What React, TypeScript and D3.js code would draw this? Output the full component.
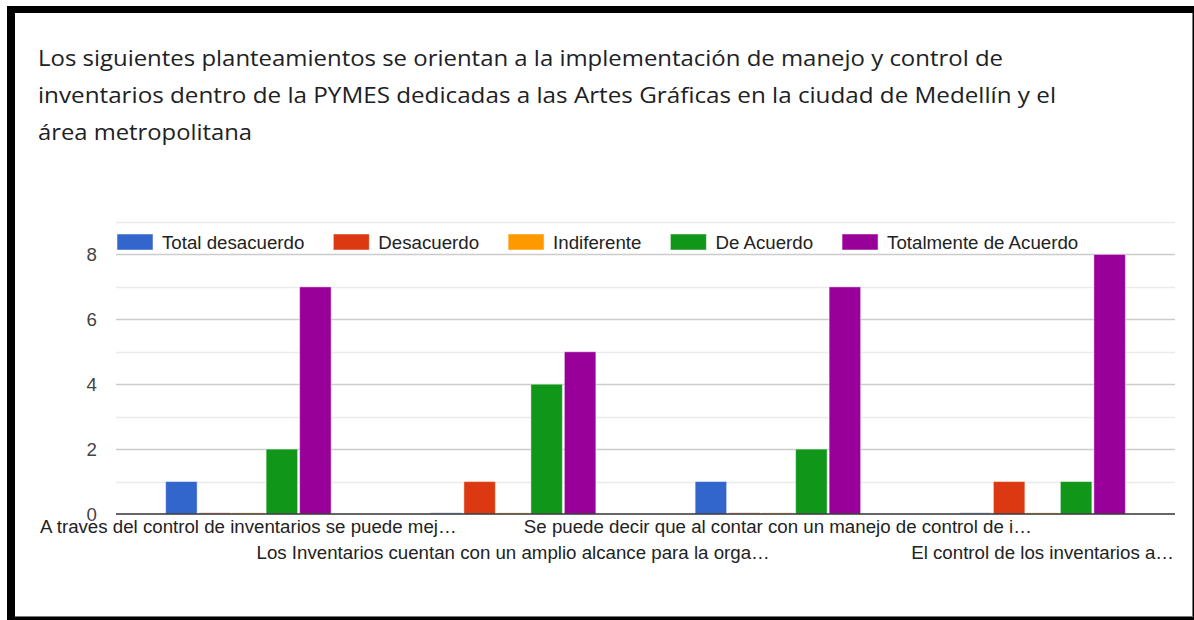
import React, { useEffect, useRef } from "react";
import * as d3 from "d3";

const titleLines = [
  "Los siguientes planteamientos se orientan a la implementación de manejo y control de",
  "inventarios dentro de la PYMES dedicadas a las Artes Gráficas en la ciudad de Medellín y el",
  "área metropolitana",
];
// rendered widths of the title lines in the reference
const titleWidths = [965, 1018, 214];

const questions = [
  "A traves del control de inventarios se puede mej…",
  "Los Inventarios cuentan con un amplio alcance para la orga…",
  "Se puede decir que al contar con un manejo de control de i…",
  "El control de los inventarios a…",
];

const seriesNames = [
  "Total desacuerdo",
  "Desacuerdo",
  "Indiferente",
  "De Acuerdo",
  "Totalmente de Acuerdo",
];
const seriesColors = ["#3366cc", "#dc3912", "#ff9900", "#109618", "#990099"];

// one array per answer, values in question order
const totalDesacuerdo = [1, 0, 1, 0];
const desacuerdo = [0, 1, 0, 1];
const indiferente = [0, 0, 0, 0];
const deAcuerdo = [2, 4, 2, 1];
const totalmenteDeAcuerdo = [7, 5, 7, 8];

const yTicks = [0, 2, 4, 6, 8];

const W = 1194;
const H = 620;
const FONT = "Arial, 'Liberation Sans', sans-serif";
const FS = 18.7;

export default function App() {
  const svgRef = useRef<SVGSVGElement>(null);

  useEffect(() => {
    if (!svgRef.current) return;
    const svg = d3.select(svgRef.current);
    svg.selectAll("*").remove();

    const values = [totalDesacuerdo, desacuerdo, indiferente, deAcuerdo, totalmenteDeAcuerdo];

    // frame
    svg.append("rect").attr("x", 7).attr("y", 6).attr("width", W - 7).attr("height", H - 6).attr("fill", "#000");
    svg.append("rect").attr("x", 15).attr("y", 13).attr("width", 1178).attr("height", 604).attr("fill", "#777");
    svg.append("rect").attr("x", 15).attr("y", 13).attr("width", 1177).attr("height", 603).attr("fill", "#fff");

    // title
    svg
      .append("g")
      .selectAll("text")
      .data(titleLines)
      .join("text")
      .attr("x", 38)
      .attr("y", (_, i) => 66 + i * 37)
      .attr("font-family", "'Open Sans', Roboto, sans-serif")
      .attr("font-size", 21)
      .attr("textLength", (_, i) => titleWidths[i])
      .attr("lengthAdjust", "spacingAndGlyphs")
      .attr("fill", "#202124")
      .text((d) => d);

    const left = 116;
    const right = 1175;
    const x0 = d3.scaleBand<string>().domain(questions).range([left, right]);
    const groupW = x0.bandwidth() * 0.625;
    const x1 = d3
      .scaleBand<string>()
      .domain(seriesNames)
      .range([(x0.bandwidth() - groupW) / 2, (x0.bandwidth() + groupW) / 2])
      .paddingInner(0.06);
    const y = d3.scaleLinear().domain([0, 9]).range([514, 222]);

    // gridlines
    svg
      .append("g")
      .selectAll("line")
      .data(d3.range(1, 10))
      .join("line")
      .attr("x1", left)
      .attr("x2", right)
      .attr("y1", (d) => Math.round(y(d)) + 0.5)
      .attr("y2", (d) => Math.round(y(d)) + 0.5)
      .attr("stroke", (d) => (d % 2 === 0 ? "#cccccc" : "#ebebeb"))
      .attr("stroke-width", 1.5);

    // y labels
    svg
      .append("g")
      .selectAll("text")
      .data(yTicks)
      .join("text")
      .attr("x", 97)
      .attr("y", (d) => y(d))
      .attr("dy", "0.36em")
      .attr("text-anchor", "end")
      .attr("font-family", FONT)
      .attr("font-size", FS)
      .attr("fill", "#444")
      .text((d) => d);

    // bars
    const groups = svg
      .append("g")
      .selectAll("g")
      .data(questions)
      .join("g")
      .attr("transform", (q) => `translate(${x0(q)},0)`);

    groups
      .selectAll("rect")
      .data((_, qi) => seriesNames.map((s, si) => ({ s, si, v: values[si][qi] })))
      .join("rect")
      .attr("x", (d) => x1(d.s)!)
      .attr("width", x1.bandwidth())
      .attr("y", (d) => (d.v === 0 ? y(0) - 1.5 : y(d.v)))
      .attr("height", (d) => (d.v === 0 ? 1.5 : y(0) - y(d.v)))
      .attr("fill", (d) => seriesColors[d.si])
      .attr("fill-opacity", (d) => (d.v === 0 ? 0.3 : 1))
      .attr("stroke", "#fff")
      .attr("stroke-opacity", (d) => (d.v === 0 ? 0 : 0.45))
      .attr("stroke-width", 1);

    // baseline
    svg
      .append("line")
      .attr("x1", left)
      .attr("x2", right)
      .attr("y1", y(0))
      .attr("y2", y(0))
      .attr("stroke", "#333")
      .attr("stroke-width", 1.5);

    // x labels, staggered in two rows
    svg
      .append("g")
      .selectAll("text")
      .data(questions)
      .join("text")
      .attr("x", (q) => x0(q)! + x0.bandwidth() / 2)
      .attr("y", (_, i) => (i % 2 === 0 ? 533 : 559))
      .attr("text-anchor", "middle")
      .attr("font-family", FONT)
      .attr("font-size", FS)
      .attr("fill", "#222")
      .text((d) => d);

    // legend
    const legend = svg.append("g");
    let lx = 117;
    seriesNames.forEach((name, i) => {
      legend
        .append("rect")
        .attr("x", lx)
        .attr("y", 234)
        .attr("width", 36)
        .attr("height", 16)
        .attr("fill", seriesColors[i])
        .attr("stroke", "#fff")
        .attr("stroke-opacity", 0.5);
      const t = legend
        .append("text")
        .attr("x", lx + 45)
        .attr("y", 249)
        .attr("font-family", FONT)
        .attr("font-size", FS)
        .attr("fill", "#222")
        .text(name);
      const w = (t.node() as SVGTextElement).getComputedTextLength();
      lx += 45 + w + 29;
    });
  }, []);

  return (
    <svg
      ref={svgRef}
      width={W}
      height={H}
      style={{ position: "absolute", left: 0, top: 0, display: "block", background: "#fff" }}
    />
  );
}
